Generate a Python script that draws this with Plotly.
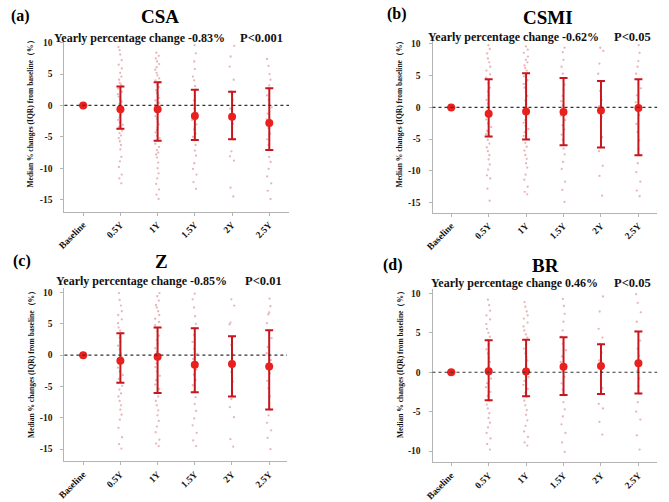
import plotly.graph_objects as go

W, H = 669, 502

categories = ["Baseline", "0.5Y", "1Y", "1.5Y", "2Y", "2.5Y"]

# ---- Panel (a) CSA ----
a_title = "CSA"
a_change = "-0.83%"
a_p = "P<0.001"
a_med = [0.0, -0.62, -0.62, -1.67, -1.78, -2.8]
a_q1 = [0.0, -3.7, -5.6, -5.5, -5.4, -7.1]
a_q3 = [0.0, 3.04, 3.68, 2.5, 2.2, 2.73]
a_05 = [9.3, 8.8, 8.1, 7.2, 6.5, 5.9, 5.2, 4.6, 4.1, 3.6, 3.3, 3.0, 2.7, 2.2, 1.8, 1.4, 1.0, 0.6, 0.3, 0.0, -0.3, -0.6, -0.8, -1.1, -1.5, -1.9, -2.3, -2.7, -3.1, -3.4, -3.7, -4.0, -4.4, -4.8, -5.2, -5.7, -6.3, -7.0, -8.2, -8.9, -9.8, -11.0, -11.6, -12.4]
a_1 = [8.4, 7.9, 7.5, 7.0, 6.6, 6.1, 5.7, 5.2, 4.8, 4.3, 4.0, 3.7, 3.3, 2.9, 2.4, 2.0, 1.6, 1.2, 0.8, 0.4, 0.1, -0.2, -0.4, -0.6, -0.9, -1.3, -1.7, -2.1, -2.6, -3.0, -3.5, -3.9, -4.3, -4.8, -5.2, -5.6, -6.1, -6.6, -7.1, -7.5, -7.8, -8.3, -9.1, -10.0, -10.8, -11.6, -12.5, -13.4, -14.2, -14.9]
a_15 = [9.6, 8.3, 7.0, 5.8, 4.6, 4.0, 3.1, 2.5, 1.6, 0.8, 0.1, -0.5, -1.2, -1.7, -2.3, -3.0, -3.8, -4.5, -5.0, -5.5, -6.3, -7.2, -8.0, -9.2, -10.1, -11.0, -12.2, -13.3]
a_2 = [9.5, 7.8, 6.2, 4.1, 2.2, 0.9, -0.5, -1.8, -2.9, -4.0, -5.4, -7.3, -8.1, -8.8, -13.1, -14.5]
a_25 = [7.4, 6.3, 5.0, 4.1, 3.2, 2.7, 1.6, 0.9, -0.3, -1.3, -2.2, -2.8, -3.6, -4.5, -5.4, -6.3, -7.1, -8.2, -9.0, -10.1, -11.3, -12.4, -13.6, -14.9]

# ---- Panel (b) CSMI ----
b_title = "CSMI"
b_change = "-0.62%"
b_p = "P<0.05"
b_med = [0.0, -1.0, -0.63, -0.74, -0.47, -0.1]
b_q1 = [0.0, -4.58, -5.05, -5.95, -6.32, -7.53]
b_q3 = [0.0, 4.42, 5.37, 4.63, 4.16, 4.42]
b_05 = [9.8, 9.2, 8.5, 7.7, 7.1, 6.4, 5.8, 5.2, 4.7, 4.4, 3.8, 3.1, 2.5, 1.9, 1.2, 0.6, 0.0, -0.5, -1.0, -1.4, -1.9, -2.5, -3.1, -3.7, -4.2, -4.6, -5.1, -5.7, -6.3, -6.9, -7.5, -8.2, -9.0, -9.8, -10.7, -11.2, -12.8, -14.7]
b_1 = [9.6, 9.1, 8.6, 8.0, 7.5, 7.1, 6.6, 6.2, 5.8, 5.4, 4.9, 4.3, 3.7, 3.1, 2.4, 1.8, 1.1, 0.5, 0.0, -0.3, -0.6, -1.0, -1.5, -2.0, -2.4, -2.9, -3.4, -3.9, -4.5, -5.0, -5.6, -6.2, -6.8, -7.5, -8.1, -8.8, -9.5, -10.6, -11.4, -12.5, -13.3, -13.7]
b_15 = [9.4, 8.7, 7.5, 6.4, 5.3, 4.6, 3.6, 2.8, 1.8, 1.0, 0.3, -0.4, -0.7, -1.3, -2.0, -2.8, -3.5, -4.3, -5.1, -5.9, -6.5, -7.4, -8.6, -9.7, -11.7, -13.0, -14.9]
b_2 = [9.4, 8.9, 6.9, 5.3, 4.1, 2.6, 1.2, 0.2, -0.5, -1.5, -3.1, -4.7, -6.3, -6.9, -9.2, -10.8, -13.9]
b_25 = [9.8, 8.6, 7.3, 6.4, 5.3, 4.4, 3.0, 1.9, 0.8, 0.0, -0.1, -1.2, -2.6, -3.9, -5.2, -6.5, -7.5, -8.8, -10.2, -11.7, -13.1, -14.0]

# ---- Panel (c) Z ----
c_title = "Z"
c_change = "-0.85%"
c_p = "P<0.01"
c_med = [0.0, -0.9, -0.26, -1.53, -1.43, -1.8]
c_q1 = [0.0, -4.39, -6.03, -5.92, -6.61, -8.67]
c_q3 = [0.0, 3.49, 4.39, 4.28, 3.01, 3.96]
c_05 = [9.9, 8.8, 7.9, 7.0, 6.4, 5.7, 5.1, 4.4, 3.9, 3.5, 2.8, 2.1, 1.5, 0.9, 0.3, -0.3, -0.9, -1.4, -2.0, -2.6, -3.2, -3.8, -4.4, -4.9, -5.5, -6.1, -6.6, -7.3, -8.0, -8.7, -9.5, -10.3, -11.6, -13.1, -14.2, -14.9]
c_1 = [9.9, 9.4, 8.7, 8.0, 7.6, 7.0, 6.4, 5.8, 5.3, 4.8, 4.4, 3.8, 3.1, 2.4, 1.8, 1.1, 0.5, 0.1, -0.3, -0.7, -1.3, -1.9, -2.6, -3.3, -4.0, -4.7, -5.4, -6.0, -6.6, -7.3, -8.0, -8.8, -9.6, -10.5, -11.4, -12.3, -13.5, -14.1, -14.5]
c_15 = [9.8, 8.9, 7.6, 6.2, 5.0, 4.3, 3.2, 2.1, 1.0, 0.2, -0.6, -1.5, -2.3, -3.1, -4.0, -4.8, -5.9, -6.7, -7.8, -8.9, -10.1, -11.2, -12.4, -13.6, -14.5]
c_2 = [8.9, 7.9, 5.2, 4.9, 3.0, 1.6, 0.1, -1.4, -2.7, -4.2, -5.5, -6.6, -7.0, -8.3, -9.9, -13.4, -14.6]
c_25 = [9.0, 7.8, 6.8, 6.5, 5.1, 4.0, 2.7, 1.3, 0.3, -0.8, -1.8, -2.9, -4.1, -5.3, -6.6, -7.7, -8.7, -9.6, -10.8, -12.0, -13.2, -15.0]

# ---- Panel (d) BR ----
d_title = "BR"
d_change = "0.46%"
d_p = "P<0.05"
d_med = [0.0, 0.13, 0.08, 0.68, 0.8, 1.14]
d_q1 = [0.0, -3.56, -3.05, -2.88, -2.75, -2.71]
d_q3 = [0.0, 4.07, 4.11, 4.45, 3.56, 5.17]
d_05 = [9.2, 8.5, 7.8, 7.2, 6.7, 6.1, 5.5, 5.0, 4.5, 4.1, 3.5, 2.9, 2.4, 1.8, 1.3, 0.7, 0.3, 0.1, -0.3, -0.8, -1.4, -1.9, -2.5, -3.0, -3.6, -4.1, -4.6, -5.2, -5.8, -6.4, -7.0, -7.7, -8.4, -9.1, -9.8]
d_1 = [8.9, 8.3, 7.7, 7.2, 6.8, 6.3, 5.8, 5.3, 4.8, 4.4, 4.1, 3.5, 3.0, 2.4, 1.9, 1.5, 0.9, 0.4, 0.1, -0.2, -0.6, -1.1, -1.6, -2.1, -2.6, -3.1, -3.6, -4.2, -4.8, -5.4, -6.1, -6.8, -7.5, -8.2, -8.9, -9.3]
d_15 = [9.3, 8.4, 7.4, 6.4, 5.3, 4.5, 3.6, 2.8, 2.0, 1.3, 0.7, 0.1, -0.6, -1.4, -2.2, -2.9, -3.8, -4.7, -5.6, -6.6, -7.7, -8.9, -10.1]
d_2 = [9.6, 7.7, 5.5, 4.4, 3.6, 2.5, 1.5, 0.8, 0.0, -1.0, -2.0, -2.8, -4.0, -4.6, -6.3, -7.9]
d_25 = [9.9, 8.8, 7.6, 6.4, 5.2, 4.0, 3.0, 2.1, 1.1, 0.2, -0.8, -1.8, -2.7, -3.8, -5.0, -6.0, -8.0, -9.8]

y_ticks_abc = [-15, -10, -5, 0, 5, 10]
y_ticks_d = [-10, -5, 0, 5, 10]
y_title = "Median % changes (IQR) from baseline（%）"

FONT = "Liberation Serif"
DOT = "rgba(210,110,118,0.5)"
BAR = "#c8161d"
MED = "#e8201e"
AXC = "#b4b4b4"


def px_x(v):
    return v / W


def px_y(v):
    return 1 - v / H


panels = [
    dict(key="a", title=a_title, change=a_change, p=a_p, med=a_med, q1=a_q1, q3=a_q3,
         pts=[a_05, a_1, a_15, a_2, a_25], xd=(58, 285), yd=(211, 38), yr=(-16.9, 10.6),
         xr=(-0.505, 5.53), ticks=y_ticks_abc,
         lab=(14, 15), tt=(155, 16), sub1=(222, 37), sub2=(233, 37), ytl=(24, 111)),
    dict(key="b", title=b_title, change=b_change, p=b_p, med=b_med, q1=b_q1, q3=b_q3,
         pts=[b_05, b_1, b_15, b_2, b_25], xd=(430, 657), yd=(212, 39), yr=(-16.57, 10.63),
         xr=(-0.50, 5.5), ticks=y_ticks_abc,
         lab=(394, 13), tt=(547, 17), sub1=(600, 36), sub2=(611, 36), ytl=(397, 111)),
    dict(key="c", title=c_title, change=c_change, p=c_p, med=c_med, q1=c_q1, q3=c_q3,
         pts=[c_05, c_1, c_15, c_2, c_25], xd=(58, 283), yd=(461, 288), yr=(-16.9, 10.64),
         xr=(-0.505, 5.48), ticks=y_ticks_abc,
         lab=(15, 261), tt=(156, 261), sub1=(224, 281), sub2=(239, 281), ytl=(25, 362)),
    dict(key="d", title=d_title, change=d_change, p=d_p, med=d_med, q1=d_q1, q3=d_q3,
         pts=[d_05, d_1, d_15, d_2, d_25], xd=(430, 657), yd=(462, 289), yr=(-11.39, 10.5),
         xr=(-0.50, 5.5), ticks=y_ticks_d,
         lab=(390, 265), tt=(544, 265), sub1=(599, 283), sub2=(611, 283), ytl=(397, 362)),
]

fig = go.Figure()
annotations = []
shapes = []

for i, pn in enumerate(panels):
    n = "" if i == 0 else str(i + 1)
    xa, ya = "x" + n, "y" + n
    # jittered individual values
    for j, vals in enumerate(pn["pts"]):
        fig.add_trace(go.Box(
            x=[j + 1] * len(vals), y=vals, xaxis=xa, yaxis=ya,
            boxpoints="all", jitter=0.5, pointpos=0, width=0.3,
            fillcolor="rgba(0,0,0,0)", line=dict(width=0, color="rgba(0,0,0,0)"),
            marker=dict(size=2.3, color=DOT), showlegend=False, hoverinfo="skip"))
    # median + IQR
    xs = list(range(len(categories)))
    up = [q3 - m for m, q3 in zip(pn["med"], pn["q3"])]
    dn = [m - q1 for m, q1 in zip(pn["med"], pn["q1"])]
    fig.add_trace(go.Scatter(
        x=xs, y=pn["med"], xaxis=xa, yaxis=ya, mode="markers",
        marker=dict(size=8, color=MED),
        error_y=dict(type="data", symmetric=False, array=up, arrayminus=dn,
                     color=BAR, thickness=2, width=4),
        showlegend=False, hoverinfo="skip"))

    xd = [px_x(pn["xd"][0]), px_x(pn["xd"][1])]
    yd = [px_y(pn["yd"][0]), px_y(pn["yd"][1])]
    common_ax = dict(showgrid=False, zeroline=False, showline=True, linecolor=AXC,
                     linewidth=1, ticks="outside", ticklen=3, tickcolor=AXC,
                     tickfont=dict(family=FONT, size=9.5, color="#1a1a1a"))
    fig.layout["xaxis" + n] = dict(
        common_ax, domain=xd, range=list(pn["xr"]), anchor=ya,
        tickvals=xs, ticktext=["<b>%s</b>" % c for c in categories], tickangle=-45,
        tickfont=dict(family=FONT, size=9.5, color="#111"))
    fig.layout["yaxis" + n] = dict(
        common_ax, domain=yd, range=list(pn["yr"]), anchor=xa, ticklabelstandoff=6,
        tickvals=pn["ticks"], ticktext=["<b>%d</b>" % t for t in pn["ticks"]])

    shapes.append(dict(type="line", xref=xa + " domain", yref=ya, x0=0, x1=1, y0=0, y1=0,
                       line=dict(color="#333333", width=1.2, dash="dot")))

    annotations += [
        dict(text="<b>(%s)</b>" % pn["key"], x=px_x(pn["lab"][0]), y=px_y(pn["lab"][1]),
             xanchor="center", yanchor="middle", font=dict(family=FONT, size=16, color="black")),
        dict(text="<b>%s</b>" % pn["title"], x=px_x(pn["tt"][0]), y=px_y(pn["tt"][1]),
             xanchor="center", yanchor="middle", font=dict(family=FONT, size=19, color="black")),
        dict(text="<b>Yearly percentage change %s</b>" % pn["change"], x=px_x(pn["sub1"][0]),
             y=px_y(pn["sub1"][1]), xanchor="right", yanchor="middle",
             font=dict(family=FONT, size=12, color="#111")),
        dict(text="<b>%s</b>" % pn["p"], x=px_x(pn["sub2"][0]), y=px_y(pn["sub2"][1]),
             xanchor="left", yanchor="middle", font=dict(family=FONT, size=12.5, color="#111")),
        dict(text="<b>%s</b>" % y_title, x=px_x(pn["ytl"][0]), y=px_y(pn["ytl"][1]),
             textangle=-90, xanchor="center", yanchor="middle",
             font=dict(family=FONT, size=7.5, color="#111")),
    ]

for a in annotations:
    a.update(xref="paper", yref="paper", showarrow=False)

fig.update_layout(width=W, height=H, margin=dict(l=0, r=0, t=0, b=0),
                  paper_bgcolor="white", plot_bgcolor="white",
                  annotations=annotations, shapes=shapes, showlegend=False,
                  boxmode="overlay")

fig.write_html("out.html")
